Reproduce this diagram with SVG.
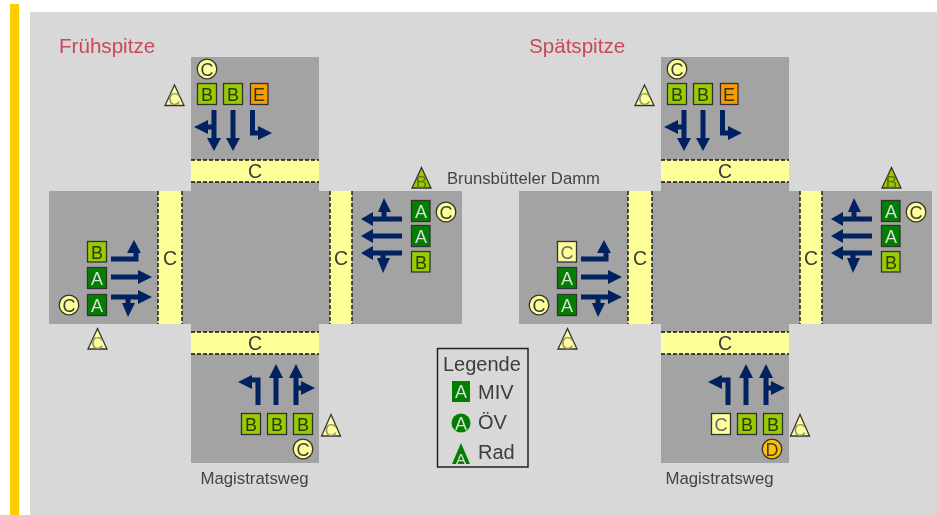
<svg xmlns="http://www.w3.org/2000/svg" width="937" height="515" viewBox="0 0 937 515">
<style>
text{font-family:"Liberation Sans",Arial,sans-serif;text-anchor:middle;fill:#3c3c3c}
.road{fill:#a3a3a3}
.walk{fill:#ffff99}
.dash{stroke:#111;stroke-width:1.4;stroke-dasharray:4 2;fill:none}
.shaft{fill:none;stroke:#002060;stroke-width:5}
.head{fill:#002060}
.m{stroke:#333;stroke-width:1.3}
.a{fill:#007f00}.b{fill:#99cc00}.c{fill:#ffff99}.d{fill:#ffc000}.e{fill:#ff9900}
.l{font-size:18px}
.la{font-size:18px;fill:#dcdcdc}
.lc{font-size:18px;fill:#666}
.lb{font-size:18px;fill:#2f3a00}
.lt{font-size:17px;fill:#94946a}
.ltb{font-size:17px;fill:#5c7000}
.cw{font-size:19.500px}
.title{font-size:20.600px;fill:#c8485a;text-anchor:start}
.street{font-size:16.700px;fill:#444}
.mag{font-size:16.800px;fill:#444}
.leg{font-size:20px;text-anchor:start;fill:#3c3c3c}
</style>
<defs>
<filter id="soft" x="0" y="0" width="100%" height="100%"><feGaussianBlur stdDeviation="0.35"/></filter>
<g id="arrow-down-left"><path class="shaft" d="M214 110V138M214 127H206"/><path class="head" d="M207 138H221L214 151ZM194 127L208 120V134Z"/></g>
<g id="arrow-down"><path class="shaft" d="M233 110V138"/><path class="head" d="M226 138H240L233 151Z"/></g>
<g id="arrow-down-right"><path class="shaft" d="M252.500 110V133H259"/><path class="head" d="M258 126V140L272 133Z"/></g>
<g id="arrow-east-left"><path class="shaft" d="M111 259H136V252"/><path class="head" d="M127 253H141L134 240Z"/></g>
<g id="arrow-east"><path class="shaft" d="M111 277H139"/><path class="head" d="M138 270V284L152 277Z"/></g>
<g id="arrow-east-right"><path class="shaft" d="M111 297H139M128 297V304"/><path class="head" d="M138 290V304L152 297ZM122 303H135L128 317Z"/></g>
<g id="arrow-west-right"><path class="shaft" d="M402 219H372M384 219V211"/><path class="head" d="M373 212V226L361 219ZM378 212H391L384 198Z"/></g>
<g id="arrow-west"><path class="shaft" d="M402 236H372"/><path class="head" d="M373 229V243L361 236Z"/></g>
<g id="arrow-west-left"><path class="shaft" d="M402 253H372M383 253V259"/><path class="head" d="M373 246V260L361 253ZM377 258H390L383 273Z"/></g>
<g id="arrow-north-left"><path class="shaft" d="M258 405V380H251"/><path class="head" d="M252 375V389L238 382Z"/></g>
<g id="arrow-north"><path class="shaft" d="M276 405V377"/><path class="head" d="M269 378H283L276 364Z"/></g>
<g id="arrow-north-right"><path class="shaft" d="M296 405V377M296 388H302"/><path class="head" d="M289 378H303L296 364ZM301 381V395L315 388Z"/></g>
</defs>

<g id="diagram" filter="url(#soft)">
<rect id="page" width="937" height="515" fill="#fff"/>
<rect id="bar" x="10" y="4" width="9" height="511" fill="#ffcc00"/>
<rect id="panel" x="30" y="12" width="907" height="503" fill="#d8d8d8"/>

<text class="title" x="59" y="53">Frühspitze</text>
<text class="title" x="529" y="53">Spätspitze</text>

<g id="intersection-frueh">
<path class="road" d="M191 57H319V191H462V324H319V463H191V324H49V191H191Z"/>
<rect class="walk" x="191" y="160" width="128" height="22"/>
<rect class="walk" x="191" y="332" width="128" height="22"/>
<rect class="walk" x="158" y="191" width="24" height="133"/>
<rect class="walk" x="330" y="191" width="22" height="133"/>
<path class="dash" d="M191 160H319M191 182H319M191 332H319M191 354H319M158 191V324M182 191V324M330 191V324M352 191V324"/>
<text class="cw" x="255" y="178">C</text>
<text class="cw" x="255" y="350">C</text>
<text class="cw" x="170" y="265">C</text>
<text class="cw" x="341" y="265">C</text>
</g>
<g id="intersection-spaet">
<path class="road" d="M661 57H789V191H932V324H789V463H661V324H519V191H661Z"/>
<rect class="walk" x="661" y="160" width="128" height="22"/>
<rect class="walk" x="661" y="332" width="128" height="22"/>
<rect class="walk" x="628" y="191" width="24" height="133"/>
<rect class="walk" x="800" y="191" width="22" height="133"/>
<path class="dash" d="M661 160H789M661 182H789M661 332H789M661 354H789M628 191V324M652 191V324M800 191V324M822 191V324"/>
<text class="cw" x="725" y="178">C</text>
<text class="cw" x="725" y="350">C</text>
<text class="cw" x="640" y="265">C</text>
<text class="cw" x="811" y="265">C</text>
</g>

<g id="connectors">
<use href="#arrow-down-left"/><use href="#arrow-down"/><use href="#arrow-down-right"/>
<use href="#arrow-east-left"/><use href="#arrow-east"/><use href="#arrow-east-right"/>
<use href="#arrow-west-right"/><use href="#arrow-west"/><use href="#arrow-west-left"/>
<use href="#arrow-north-left"/><use href="#arrow-north"/><use href="#arrow-north-right"/>
<use href="#arrow-down-left" x="470"/><use href="#arrow-down" x="470"/><use href="#arrow-down-right" x="470"/>
<use href="#arrow-east-left" x="470"/><use href="#arrow-east" x="470"/><use href="#arrow-east-right" x="470"/>
<use href="#arrow-west-right" x="470"/><use href="#arrow-west" x="470"/><use href="#arrow-west-left" x="470"/>
<use href="#arrow-north-left" x="470"/><use href="#arrow-north" x="470"/><use href="#arrow-north-right" x="470"/>
</g>

<g id="frueh-nord">
<circle class="m c" cx="207" cy="69" r="9.800"/><text class="l" x="207" y="75.500">C</text>
<path class="m c" d="M174.500 85L184 105.500H165Z"/><text class="lt" x="174.500" y="105">C</text>
<rect class="m b" x="197.500" y="83.500" width="19" height="21"/><text class="lb" x="207" y="100.500">B</text>
<rect class="m b" x="223.500" y="83.500" width="19" height="21"/><text class="lb" x="233" y="100.500">B</text>
<rect class="m e" x="250.500" y="83.500" width="17.500" height="21"/><text class="lb" x="259" y="100.500">E</text>
</g>
<g id="frueh-west">
<rect class="m b" x="87.500" y="241.500" width="19" height="20.500"/><text class="lb" x="97" y="258.500">B</text>
<rect class="m a" x="87.500" y="267.500" width="19" height="21"/><text class="la" x="97" y="284.500">A</text>
<rect class="m a" x="87.500" y="294.500" width="19" height="21"/><text class="la" x="97" y="311.500">A</text>
<circle class="m c" cx="69" cy="305" r="9.800"/><text class="l" x="69" y="311.500">C</text>
<path class="m c" d="M97.500 328.500L107 349H88Z"/><text class="lt" x="97.500" y="348.500">C</text>
</g>
<g id="frueh-ost">
<rect class="m a" x="411.500" y="200.500" width="18.500" height="21"/><text class="la" x="421" y="217.500">A</text>
<rect class="m a" x="411.500" y="225.500" width="18.500" height="21"/><text class="la" x="421" y="242.500">A</text>
<rect class="m b" x="411.500" y="251.500" width="18.500" height="20.500"/><text class="lb" x="421" y="268.500">B</text>
<circle class="m c" cx="446" cy="212" r="9.800"/><text class="l" x="446" y="218.500">C</text>
<path class="m b" d="M421.500 167.500L431 188H412Z"/><text class="ltb" x="421.500" y="187.500">B</text>
</g>
<g id="frueh-sued">
<rect class="m b" x="241.500" y="413.500" width="19" height="21"/><text class="lb" x="251" y="430.500">B</text>
<rect class="m b" x="267.500" y="413.500" width="19" height="21"/><text class="lb" x="277" y="430.500">B</text>
<rect class="m b" x="293.500" y="413.500" width="19" height="21"/><text class="lb" x="303" y="430.500">B</text>
<circle class="m c" cx="303" cy="449" r="9.800"/><text class="l" x="303" y="455.500">C</text>
<path class="m c" d="M331 414.500L340.500 436H321.500Z"/><text class="lt" x="331" y="435.500">C</text>
</g>

<g id="spaet-nord">
<circle class="m c" cx="677" cy="69" r="9.800"/><text class="l" x="677" y="75.500">C</text>
<path class="m c" d="M644.500 85L654 105.500H635Z"/><text class="lt" x="644.500" y="105">C</text>
<rect class="m b" x="667.500" y="83.500" width="19" height="21"/><text class="lb" x="677" y="100.500">B</text>
<rect class="m b" x="693.500" y="83.500" width="19" height="21"/><text class="lb" x="703" y="100.500">B</text>
<rect class="m e" x="720.500" y="83.500" width="17.500" height="21"/><text class="lb" x="729" y="100.500">E</text>
</g>
<g id="spaet-west">
<rect class="m c" x="557.500" y="241.500" width="19" height="20.500"/><text class="lc" x="567" y="258.500">C</text>
<rect class="m a" x="557.500" y="267.500" width="19" height="21"/><text class="la" x="567" y="284.500">A</text>
<rect class="m a" x="557.500" y="294.500" width="19" height="21"/><text class="la" x="567" y="311.500">A</text>
<circle class="m c" cx="539" cy="305" r="9.800"/><text class="l" x="539" y="311.500">C</text>
<path class="m c" d="M567.500 328.500L577 349H558Z"/><text class="lt" x="567.500" y="348.500">C</text>
</g>
<g id="spaet-ost">
<rect class="m a" x="881.500" y="200.500" width="18.500" height="21"/><text class="la" x="891" y="217.500">A</text>
<rect class="m a" x="881.500" y="225.500" width="18.500" height="21"/><text class="la" x="891" y="242.500">A</text>
<rect class="m b" x="881.500" y="251.500" width="18.500" height="20.500"/><text class="lb" x="891" y="268.500">B</text>
<circle class="m c" cx="916" cy="212" r="9.800"/><text class="l" x="916" y="218.500">C</text>
<path class="m b" d="M891.500 167.500L901 188H882Z"/><text class="ltb" x="891.500" y="187.500">B</text>
</g>
<g id="spaet-sued">
<rect class="m c" x="711.500" y="413.500" width="19" height="21"/><text class="lc" x="721" y="430.500">C</text>
<rect class="m b" x="737.500" y="413.500" width="19" height="21"/><text class="lb" x="747" y="430.500">B</text>
<rect class="m b" x="763.500" y="413.500" width="19" height="21"/><text class="lb" x="773" y="430.500">B</text>
<circle class="m d" cx="772" cy="449" r="9.800"/><text class="l" x="772" y="455.500">D</text>
<path class="m c" d="M800 414.500L809.500 436H790.500Z"/><text class="lt" x="800" y="435.500">C</text>
</g>

<text class="street" x="523.500" y="184">Brunsbütteler Damm</text>
<text class="mag" x="254.500" y="484">Magistratsweg</text>
<text class="mag" x="719.500" y="484">Magistratsweg</text>

<g id="legende">
<rect x="437.500" y="348.500" width="90.500" height="118.500" fill="none" stroke="#222" stroke-width="1.500"/>
<text class="leg" x="443" y="371">Legende</text>
<rect class="a" x="452" y="381" width="18" height="21"/><text class="la" x="461" y="398">A</text>
<text class="leg" x="478" y="399">MIV</text>
<circle class="a" cx="461" cy="423" r="9.500"/><text class="la" x="461" y="429.500">A</text>
<text class="leg" x="478" y="429">ÖV</text>
<path class="a" d="M461 443L470 464H452Z"/><text class="la" style="font-size:15px" x="461" y="463.500">A</text>
<text class="leg" x="478" y="458.500">Rad</text>
</g>
</g>
</svg>
